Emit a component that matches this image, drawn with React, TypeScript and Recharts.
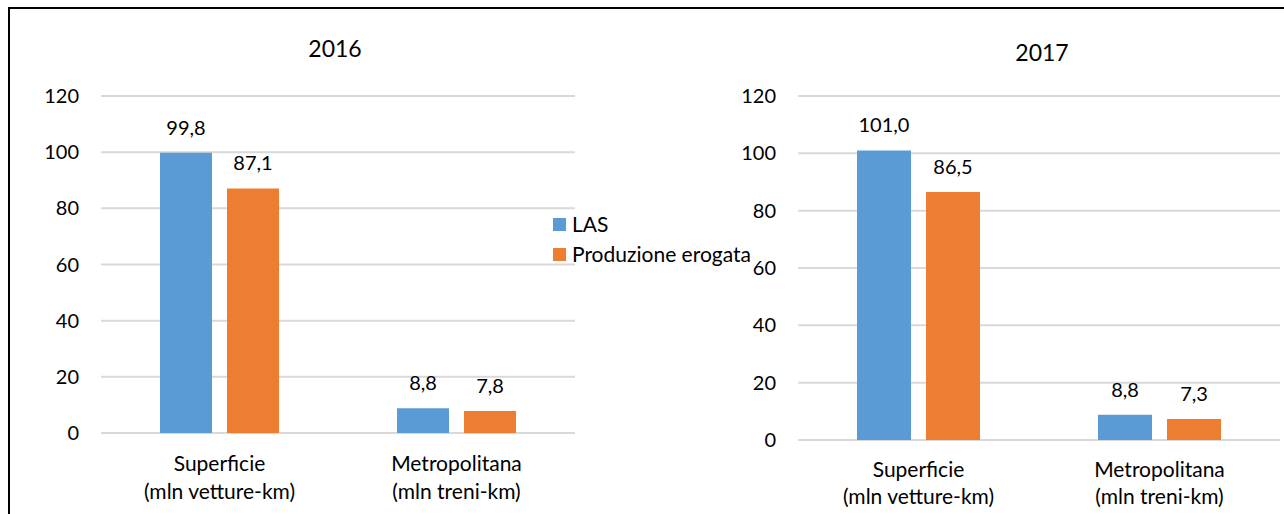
import React from 'react'
import { BarChart, Bar, XAxis, YAxis, CartesianGrid, LabelList } from 'recharts'

const categories = ['Superficie', 'Metropolitana']
const units = ['(mln vetture-km)', '(mln treni-km)']
const las2016 = [99.8, 8.8]
const prod2016 = [87.1, 7.8]
const las2017 = [101.0, 8.8]
const prod2017 = [86.5, 7.3]
const yTicks = [0, 20, 40, 60, 80, 100, 120]

const BLUE = '#5b9bd5'
const ORANGE = '#ed7d31'
const FONT = 'Lato, Carlito, Calibri, sans-serif'

const seriesNames = { las: 'LAS', prod: 'Produzione erogata' }

const buildRows = (las: number[], prod: number[]) =>
  categories.map((c, i) => ({ name: c, unit: units[i], las: las[i], prod: prod[i] }))

const fmt = (v: any) => Number(v).toFixed(1).replace('.', ',')

// two-line category label: name, then unit of measure
const CategoryTick = ({ x, y, payload, index, first, second }: any) => (
  <text x={x} y={y} textAnchor="middle" fontSize={21} fill="#000" fontFamily={FONT}>
    <tspan x={x} dy={first}>{payload.value}</tspan>
    <tspan x={x} dy={second}>{units[index]}</tspan>
  </text>
)

const LegendBox = () => (
  <div
    style={{
      position: 'absolute',
      left: 553,
      top: 209,
      fontFamily: FONT,
      fontSize: 21,
      color: '#000',
      lineHeight: '30px',
    }}
  >
    {[
      { label: seriesNames.las, color: BLUE },
      { label: seriesNames.prod, color: ORANGE },
    ].map((s) => (
      <div key={s.label} style={{ display: 'flex', alignItems: 'center', whiteSpace: 'nowrap' }}>
        <span style={{ width: 13, height: 13, background: s.color, marginRight: 6, display: 'inline-block' }} />
        {s.label}
      </div>
    ))}
  </div>
)

interface PanelProps {
  data: ReturnType<typeof buildRows>
  width: number
  margin: { top: number; right: number; left: number; bottom: number }
  barSize: number
  tickMargin: number
  lineDy: [number, number]
}

function Panel({ data, width, margin, barSize, tickMargin, lineDy }: PanelProps) {
  return (
    <BarChart width={width} height={514} data={data} margin={margin} barGap={15} barSize={barSize}>
      <CartesianGrid vertical={false} stroke="#d9d9d9" strokeWidth={2} />
      <XAxis
        dataKey="name"
        axisLine={false}
        tickLine={false}
        height={60}
        interval={0}
        tick={<CategoryTick first={lineDy[0]} second={lineDy[1]} />}
      />
      <YAxis
        domain={[0, 120]}
        ticks={yTicks}
        axisLine={false}
        tickLine={false}
        tickSize={0}
        tickMargin={tickMargin}
        width={60}
        tick={{ fill: '#000', fontSize: 20, fontFamily: FONT }}
      />
      <Bar dataKey="las" name={seriesNames.las} fill={BLUE} isAnimationActive={false}>
        <LabelList dataKey="las" position="top" offset={18} formatter={fmt} fill="#000" fontSize={20} fontFamily={FONT} />
      </Bar>
      <Bar dataKey="prod" name={seriesNames.prod} fill={ORANGE} isAnimationActive={false}>
        <LabelList dataKey="prod" position="top" offset={18} formatter={fmt} fill="#000" fontSize={20} fontFamily={FONT} />
      </Bar>
    </BarChart>
  )
}

const titleStyle: React.CSSProperties = {
  position: 'absolute',
  fontFamily: FONT,
  fontSize: 23,
  color: '#000',
  transform: 'translate(-50%, -50%)',
}

export default function App() {
  return (
    <div style={{ position: 'absolute', left: 0, top: 0, width: 1284, height: 514, background: '#fff', overflow: 'hidden' }}>
      <div
        style={{
          position: 'absolute',
          left: 8,
          top: 7,
          width: 1276,
          height: 507,
          borderLeft: '2px solid #000',
          borderTop: '2px solid #000',
        }}
      />
      <div style={{ position: 'absolute', left: 0, top: 0 }}>
        <Panel
          data={buildRows(las2016, prod2016)}
          width={640}
          margin={{ top: 96, right: 65, left: 41, bottom: 21 }}
          barSize={52}
          tickMargin={22}
          lineDy={[30, 28]}
        />
      </div>
      <div style={{ position: 'absolute', left: 700, top: 0 }}>
        <Panel
          data={buildRows(las2017, prod2017)}
          width={584}
          margin={{ top: 96, right: 4, left: 38, bottom: 14 }}
          barSize={54}
          tickMargin={22}
          lineDy={[29, 27]}
        />
      </div>
      <LegendBox />
      <div style={{ ...titleStyle, left: 335, top: 48 }}>2016</div>
      <div style={{ ...titleStyle, left: 1042, top: 52 }}>2017</div>
    </div>
  )
}
